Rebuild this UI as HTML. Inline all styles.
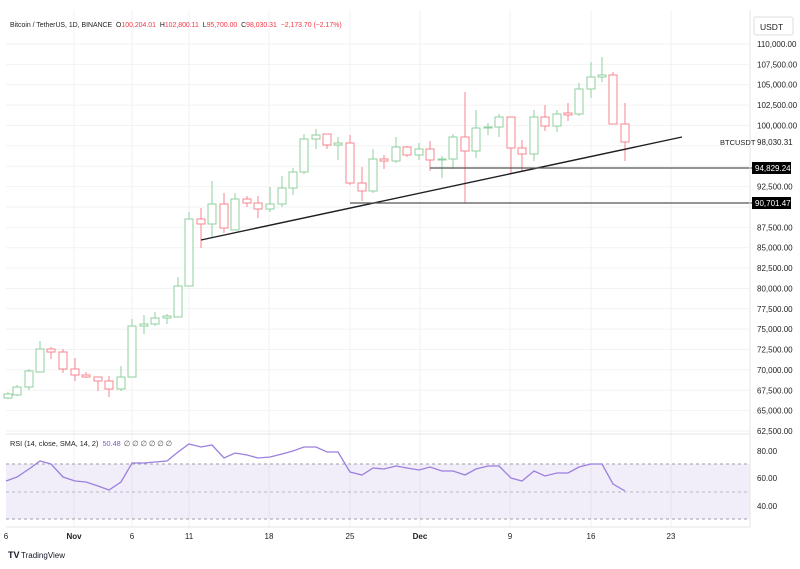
<!DOCTYPE html>
<html><head><meta charset="utf-8"><style>
body{margin:0;background:#fff;font-family:"Liberation Sans",sans-serif}
svg text{font-family:"Liberation Sans",sans-serif}
</style></head><body>
<svg id="s" width="800" height="564" xmlns="http://www.w3.org/2000/svg">
<rect width="800" height="564" fill="#fff"/>
<g id="grid"></g>
<rect x="6" y="464" width="744" height="55" fill="#7e57c2" fill-opacity="0.1"/>
<line x1="6" y1="464" x2="750" y2="464" stroke="#9e9ea8" stroke-dasharray="3,3"/>
<line x1="6" y1="492" x2="750" y2="492" stroke="#b8b8c0" stroke-dasharray="3,3"/>
<line x1="6" y1="519" x2="750" y2="519" stroke="#9e9ea8" stroke-dasharray="3,3"/>
<g id="c"></g>
<line x1="201" y1="240" x2="682" y2="137" stroke="#1e1e24" stroke-width="1.4"/>
<line x1="430" y1="168" x2="752" y2="168" stroke="#555" stroke-width="1.2"/>
<line x1="350" y1="203" x2="752" y2="203" stroke="#555" stroke-width="1.2"/>
<polyline id="rsi" fill="none" stroke="#9c7fe0" stroke-width="1.3"/>
<line x1="6" y1="434" x2="750" y2="434" stroke="#e6e6e6"/>
<line x1="6" y1="527" x2="750" y2="527" stroke="#e6e6e6"/>
<line x1="750" y1="10" x2="750" y2="527" stroke="#e6e6e6"/>
<g id="lab" font-size="8" fill="#222"></g>
<text x="10" y="27" font-size="6.9" fill="#222">Bitcoin / TetherUS, 1D, BINANCE <tspan dx="2">O</tspan><tspan fill="#f23645">100,204.01</tspan> <tspan dx="2">H</tspan><tspan fill="#f23645">102,800.11</tspan> <tspan dx="2">L</tspan><tspan fill="#f23645">95,700.00</tspan> <tspan dx="2">C</tspan><tspan fill="#f23645">98,030.31</tspan> <tspan dx="2" fill="#f23645">−2,173.70 (−2.17%)</tspan></text>
<rect x="754" y="17" width="39" height="18" fill="#fff" stroke="#ddd" rx="2"/>
<text x="760" y="30" font-size="8.5" fill="#222">USDT</text>
<text x="720" y="145" font-size="7.5" fill="#222">BTCUSDT</text>
<text x="757" y="145" font-size="8" fill="#222">98,030.31</text>
<rect x="752" y="162" width="39" height="12" fill="#000"/>
<text x="755" y="171" font-size="8" fill="#fff">94,829.24</text>
<rect x="752" y="197" width="39" height="12" fill="#000"/>
<text x="755" y="206" font-size="8" fill="#fff">90,701.47</text>
<text x="10" y="446" font-size="7.3" fill="#222">RSI (14, close, SMA, 14, 2) <tspan fill="#7e57c2" dx="2">50.48</tspan><tspan dx="3" fill="#555">∅  ∅  ∅  ∅  ∅  ∅</tspan></text>
<text x="8" y="558" font-size="9" font-weight="bold" fill="#131722">TV</text>
<text x="21" y="558" font-size="8" fill="#131722">TradingView</text>
</svg>
<script>
const NS="http://www.w3.org/2000/svg";
function el(p,t,a,txt){const e=document.createElementNS(NS,t);for(const k in a)e.setAttribute(k,a[k]);if(txt)e.textContent=txt;document.getElementById(p).appendChild(e);}
const labs=["110,000.00","107,500.00","105,000.00","102,500.00","100,000.00","97,500.00","95,000.00","92,500.00","90,000.00","87,500.00","85,000.00","82,500.00","80,000.00","77,500.00","75,000.00","72,500.00","70,000.00","67,500.00","65,000.00","62,500.00"];
labs.forEach((l,i)=>{const y=44+i*20.37;el("grid","line",{x1:6,x2:750,y1:y,y2:y,stroke:"#f2f2f2"});if(l!="97,500.00"&&l!="95,000.00"&&l!="90,000.00")el("lab","text",{x:757,y:y+3},l);});
[74,132,189,269,350,420,510,591,671].forEach(x=>el("grid","line",{x1:x,x2:x,y1:10,y2:527,stroke:"#f2f2f2"}));
[[80,451],[60,478],[40,506]].forEach(a=>el("lab","text",{x:757,y:a[1]+3},a[0].toFixed(2)));
[[6,"6"],[74,"Nov"],[132,"6"],[189,"11"],[269,"18"],[350,"25"],[420,"Dec"],[510,"9"],[591,"16"],[671,"23"]].forEach(a=>el("lab","text",{x:a[0],y:539,"text-anchor":"middle","font-weight":a[1]=="Nov"||a[1]=="Dec"?"bold":"normal"},a[1]));
const C=[[8,394,398,392,399,1],[17,387,395,385,396,1],[29,371,387,369,390,1],[40,349,372,341,372,1],[51,349,352,347,359,0],[63,352,369,349,373,0],[75,369,375,358,381,0],[86,375,377,372,378,0],[98,377,381,377,391,0],[109,381,389,376,397,0],[121,377,389,366,391,1],[132,326,377,319,377,1],[144,324,326,315,334,1],[155,318,324,312,326,1],[167,316,318,314,324,1],[178,286,317,277,317,1],[189,219,286,212,286,1],[201,219,224,208,248,0],[212,204,224,181,237,1],[224,204,228,193,233,0],[235,199,230,193,230,1],[247,199,203,196,207,0],[258,203,209,196,218,0],[270,204,209,187,212,1],[282,188,204,176,207,1],[293,172,188,168,195,1],[304,139,172,134,174,1],[316,135,139,129,149,1],[327,134,145,134,149,0],[338,143,145,137,160,1],[350,143,183,135,185,0],[362,183,191,167,201,0],[373,159,191,149,193,1],[384,159,161,155,169,0],[396,147,161,137,163,1],[407,147,155,146,157,0],[419,149,155,143,160,1],[430,149,160,141,171,0],[442,159,160,156,178,1],[453,137,159,134,169,1],[465,137,151,92,203,0],[476,128,151,110,158,1],[488,127,128,123,135,1],[499,117,127,114,137,1],[511,117,148,117,173,0],[522,148,154,140,172,0],[534,117,154,110,161,1],[545,117,126,105,131,0],[557,114,126,110,132,1],[568,113,115,103,121,0],[579,89,114,83,116,1],[591,77,89,62,98,1],[602,75,77,57,82,1],[613,75,124,72,124,0],[625,124,142,103,161,0]];
C.forEach(c=>{const col=c[5]?"#8fd19e":"#f7858f";el("c","line",{x1:c[0],x2:c[0],y1:c[3],y2:c[4],stroke:col,"stroke-width":1});el("c","rect",{x:c[0]-4,y:c[1],width:8,height:Math.max(1,c[2]-c[1]),fill:"#fff",stroke:col,"stroke-width":1});});
const R=[[6,481],[17,477],[29,469],[40,461],[51,464],[63,477],[75,481],[86,482],[98,486],[109,490],[121,482],[132,463],[144,463],[155,462],[167,461],[178,452],[189,444],[201,447],[212,445],[224,458],[235,453],[247,455],[258,458],[270,457],[282,454],[293,451],[304,447],[316,447],[327,452],[338,452],[350,472],[362,475],[373,468],[384,469],[396,466],[407,468],[419,470],[430,467],[442,471],[453,471],[465,475],[476,469],[488,466],[499,466],[511,478],[522,481],[534,471],[545,476],[557,473],[568,473],[579,467],[591,464],[602,464],[613,484],[625,491]];
document.getElementById("rsi").setAttribute("points",R.map(p=>p.join(",")).join(" "));
</script>
</body></html>
